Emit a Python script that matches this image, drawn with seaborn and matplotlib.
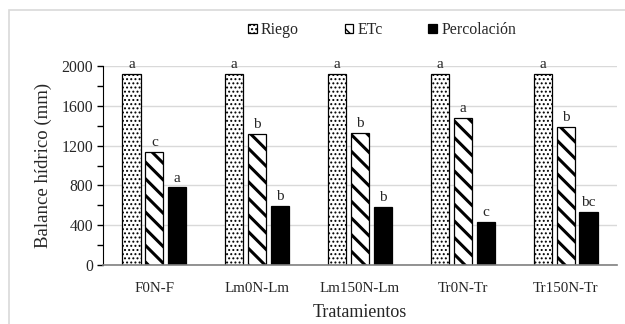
import pandas as pd
import matplotlib
matplotlib.use('Agg')
import matplotlib.pyplot as plt
import seaborn as sns
from matplotlib.patches import Patch, Rectangle

# valores (mm)
tratamientos = ['F0N-F', 'Lm0N-Lm', 'Lm150N-Lm', 'Tr0N-Tr', 'Tr150N-Tr']
riego = [1920, 1920, 1920, 1920, 1920]
etc = [1135, 1315, 1325, 1478, 1385]
percolacion = [780, 592, 582, 435, 530]
letras_riego = ['a', 'a', 'a', 'a', 'a']
letras_etc = ['c', 'b', 'b', 'a', 'b']
letras_perc = ['a', 'b', 'b', 'c', 'bc']
series = ['Riego', 'ETc', 'Percolación']

df = pd.DataFrame({
    'Tratamiento': tratamientos * 3,
    'Componente': [s for s in series for _ in tratamientos],
    'mm': riego + etc + percolacion,
})
letras = [letras_riego, letras_etc, letras_perc]

sns.set_style('white')
plt.rcParams['font.family'] = ['Liberation Serif', 'DejaVu Serif']
plt.rcParams['hatch.color'] = 'black'

fig = plt.figure(figsize=(6.25, 3.24), dpi=100)
ax = fig.add_axes([103 / 625, 1 - 265 / 324, 514 / 625, 199 / 324])

sns.barplot(data=df, x='Tratamiento', y='mm', hue='Componente',
            order=tratamientos, hue_order=series, width=0.67, gap=0.21,
            palette=['white', 'white', 'black'], edgecolor='black', linewidth=0.9,
            errorbar=None, legend=False, ax=ax)

hatches = ['....', '\\\\', None]
hatch_lw = [0.9, 2.2, 1.0]
for cont, h, hl, lets in zip(ax.containers, hatches, hatch_lw, letras):
    for bar, lt in zip(cont, lets):
        if h:
            bar.set_hatch(h)
            if hasattr(bar, 'set_hatch_linewidth'):
                bar.set_hatch_linewidth(hl)
        ax.annotate(lt, (bar.get_x() + bar.get_width() / 2, bar.get_height()),
                    xytext=(0, 2), textcoords='offset points',
                    ha='center', va='bottom', fontsize=11)

ax.set_ylim(0, 2000)
ax.set_xlim(-0.5, 4.5)
ax.set_yticks(range(0, 2001, 400))
ax.set_yticks(range(200, 2000, 400), minor=True)
ax.yaxis.grid(True, color='#d9d9d9', linewidth=1)
ax.set_axisbelow(True)
ax.tick_params(axis='y', which='both', direction='out', length=4, width=1,
               color='black', labelsize=11.3, left=True, pad=3)
ax.tick_params(axis='x', length=0, labelsize=10.8, pad=12)
for side in ['top', 'right']:
    ax.spines[side].set_visible(False)
ax.spines['left'].set_color('black')
ax.spines['bottom'].set_color('#808080')
ax.spines['bottom'].set_linewidth(1.2)

ax.set_xlabel('Tratamientos', fontsize=13, labelpad=7)
ax.set_ylabel('Balance hídrico (mm)', fontsize=13.5, labelpad=7)

handles = []
for cont, h in zip(ax.containers, hatches):
    p = cont.patches[0]
    handles.append(Patch(facecolor=p.get_facecolor(), edgecolor='black',
                         hatch=h, linewidth=0.9))
fig.legend(handles=handles, labels=series, loc='center',
           bbox_to_anchor=(382 / 625, 1 - 30 / 324), ncol=3, frameon=False,
           fontsize=11.4, handlelength=0.55, handleheight=0.55, handletextpad=0.25,
           columnspacing=2.9)

# borde del area del grafico
fig.patches.append(Rectangle((9 / 625, -0.1), 1.2, 1 - 10 / 324 + 0.1,
                             transform=fig.transFigure, fill=False,
                             edgecolor='#d9d9d9', linewidth=1.2))

fig.savefig('out.png', dpi=100)
